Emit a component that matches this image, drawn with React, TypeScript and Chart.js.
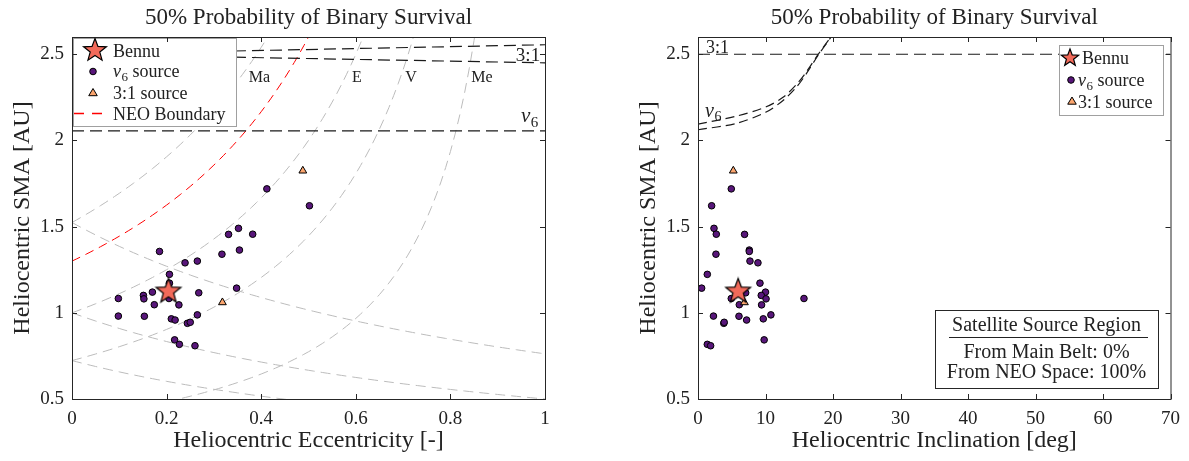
import React, { useEffect, useRef } from 'react';
import { Chart, registerables } from 'chart.js';

Chart.register(...registerables);

// ---------------- data ----------------
// nu6-source satellites: eccentricity, semi-major axis [AU], inclination [deg]
const nu6Ecc = [0.412, 0.502, 0.352, 0.382, 0.331, 0.354, 0.185, 0.317, 0.265, 0.239, 0.206, 0.206, 0.348, 0.170, 0.268, 0.151, 0.152, 0.098, 0.205, 0.174, 0.226, 0.265, 0.098, 0.153, 0.210, 0.218, 0.244, 0.250, 0.217, 0.227, 0.260];
const nu6Sma = [1.719, 1.621, 1.490, 1.456, 1.455, 1.364, 1.356, 1.340, 1.300, 1.290, 1.223, 1.172, 1.143, 1.120, 1.116, 1.101, 1.081, 1.083, 1.083, 1.047, 1.046, 0.988, 0.981, 0.980, 0.965, 0.958, 0.939, 0.945, 0.843, 0.817, 0.809];
const nu6Inc = [4.93, 2.02, 2.37, 2.71, 6.9, 7.6, 7.6, 2.66, 7.7, 8.88, 1.38, 9.18, 0.54, 10.0, 7.06, 9.37, 10.08, 15.7, 4.93, 6.12, 9.42, 10.8, 2.29, 6.07, 9.67, 7.2, 3.82, 3.88, 9.8, 1.38, 1.87];

// 3:1-source satellites
const src31Ecc = [0.488, 0.318];
const src31Sma = [1.824, 1.06];
const src31Inc = [5.23, 6.88];

// Bennu
const bennuEcc = [0.204];
const bennuSma = [1.124];
const bennuInc = [5.95];

// planets (perihelion / aphelion crossing curves)
const planetNames = ['Ma', 'E', 'V', 'Me'];
const planetSma = [1.524, 1.0, 0.723, 0.387];
const neoPerihelion = 1.3;
const eccGrid = Array.from({ length: 100 }, (_, k) => k / 100);

// resonances, left panel (vs eccentricity)
const res31Ecc = [0, 1];
const res31Upper = [2.5, 2.555];
const res31Lower = [2.5, 2.45];
const nu6LeftSma = 2.055;

// resonances, right panel (vs inclination)
const nu6CurveInc = [0, 5.7, 10.1, 12.6, 14.6, 16.1, 17.8, 19.8, 21];
const nu6CurveUpper = [2.095, 2.141, 2.195, 2.25, 2.325, 2.4, 2.499, 2.607, 2.673];
const nu6CurveLower = [2.062, 2.099, 2.165, 2.232, 2.31, 2.39, 2.494, 2.604, 2.672];
const res31IncRange = [0, 70];

// ticks
const eccTicks = [0, 0.2, 0.4, 0.6, 0.8, 1];
const incTicks = [0, 10, 20, 30, 40, 50, 60, 70];
const smaTicks = [0.5, 1, 1.5, 2, 2.5];

// ---------------- styles ----------------
const FONT = '"Liberation Serif", "Times New Roman", serif';
const TXT = '#222222';
const PURPLE = '#58167a';
const PEACH = '#fba56e';
const CORAL = '#f26a5a';
const GRAY = '#bcbcbc';

function starPath(ctx: CanvasRenderingContext2D, x: number, y: number, R: number) {
  const r = R * 0.42;
  ctx.beginPath();
  for (let k = 0; k < 10; k++) {
    const ang = -Math.PI / 2 + (k * Math.PI) / 5;
    const rad = k % 2 === 0 ? R : r;
    const px = x + rad * Math.cos(ang);
    const py = y + rad * Math.sin(ang);
    if (k === 0) ctx.moveTo(px, py);
    else ctx.lineTo(px, py);
  }
  ctx.closePath();
}

function drawStar(ctx: CanvasRenderingContext2D, x: number, y: number, R: number) {
  starPath(ctx, x, y, R);
  ctx.fillStyle = CORAL;
  ctx.fill();
  ctx.lineWidth = 1.2;
  ctx.strokeStyle = '#000';
  ctx.setLineDash([]);
  ctx.stroke();
}

function makeStarImage(R: number) {
  const c = document.createElement('canvas');
  const s = Math.ceil(2 * R + 4);
  c.width = s;
  c.height = s;
  const ctx = c.getContext('2d')!;
  drawStar(ctx, s / 2, s / 2, R);
  return c;
}

function drawCircle(ctx: CanvasRenderingContext2D, x: number, y: number, r: number) {
  ctx.beginPath();
  ctx.arc(x, y, r, 0, Math.PI * 2);
  ctx.fillStyle = PURPLE;
  ctx.fill();
  ctx.lineWidth = 1;
  ctx.strokeStyle = '#000';
  ctx.setLineDash([]);
  ctx.stroke();
}

function drawTriangle(ctx: CanvasRenderingContext2D, x: number, y: number, r: number) {
  ctx.beginPath();
  ctx.moveTo(x, y - r);
  ctx.lineTo(x + r * 0.95, y + r * 0.6);
  ctx.lineTo(x - r * 0.95, y + r * 0.6);
  ctx.closePath();
  ctx.fillStyle = PEACH;
  ctx.fill();
  ctx.lineWidth = 1;
  ctx.strokeStyle = '#000';
  ctx.setLineDash([]);
  ctx.stroke();
}

// italic nu with subscript 6; returns width
function drawNu6(ctx: CanvasRenderingContext2D, x: number, y: number, size: number) {
  ctx.textAlign = 'left';
  ctx.textBaseline = 'alphabetic';
  ctx.fillStyle = TXT;
  ctx.font = `italic ${size}px ${FONT}`;
  ctx.fillText('\u03bd', x, y);
  const w = ctx.measureText('\u03bd').width;
  const s2 = Math.round(size * 0.7);
  ctx.font = `${s2}px ${FONT}`;
  ctx.fillText('6', x + w + 0.5, y + size * 0.22);
  return w + 0.5 + ctx.measureText('6').width;
}

function text(ctx: CanvasRenderingContext2D, s: string, x: number, y: number, size: number, align: CanvasTextAlign = 'left') {
  ctx.font = `${size}px ${FONT}`;
  ctx.textAlign = align;
  ctx.textBaseline = 'alphabetic';
  ctx.fillStyle = TXT;
  ctx.fillText(s, x, y);
}

function pts(xs: number[], ys: number[]) {
  return xs.map((x, i) => ({ x, y: ys[i] }));
}

function lineDs(data: { x: number; y: number }[], color: string, dash: number[], width = 1, tension = 0) {
  return {
    data,
    showLine: true,
    borderColor: color,
    borderWidth: width,
    borderDash: dash,
    pointRadius: 0,
    fill: false,
    tension,
  };
}

function frameAndText(chart: any, side: 'left' | 'right') {
  const ctx: CanvasRenderingContext2D = chart.ctx;
  const { left, right, top, bottom } = chart.chartArea;
  const xs = chart.scales.x;
  const ys = chart.scales.y;
  ctx.save();
  ctx.setLineDash([]);
  ctx.strokeStyle = '#262626';
  ctx.lineWidth = 1;
  ctx.strokeRect(left + 0.5, top + 0.5, right - left, bottom - top);
  ctx.beginPath();
  for (const t of xs.ticks) {
    const px = Math.round(xs.getPixelForValue(t.value)) + 0.5;
    ctx.moveTo(px, bottom);
    ctx.lineTo(px, bottom - 5);
    ctx.moveTo(px, top);
    ctx.lineTo(px, top + 5);
  }
  for (const t of ys.ticks) {
    const py = Math.round(ys.getPixelForValue(t.value)) + 0.5;
    ctx.moveTo(left, py);
    ctx.lineTo(left + 5, py);
    ctx.moveTo(right, py);
    ctx.lineTo(right - 5, py);
  }
  ctx.stroke();

  const cx = (left + right) / 2;
  const cy = (top + bottom) / 2;
  text(ctx, '50% Probability of Binary Survival', cx, 24, 23, 'center');
  text(ctx, side === 'left' ? 'Heliocentric Eccentricity [-]' : 'Heliocentric Inclination [deg]', cx, 447, 24, 'center');
  ctx.save();
  ctx.translate(left - 43, cy);
  ctx.rotate(-Math.PI / 2);
  text(ctx, 'Heliocentric SMA [AU]', 0, 0, 24, 'center');
  ctx.restore();
  ctx.restore();
}

function overlayLeft(chart: any) {
  const ctx: CanvasRenderingContext2D = chart.ctx;
  ctx.save();
  // planet labels
  const labelX = [259.5, 357, 411, 482];
  planetNames.forEach((n, i) => text(ctx, n, labelX[i], 82, 16, 'center'));
  // resonance labels
  text(ctx, '3:1', 528, 61, 19, 'center');
  drawNu6(ctx, 521, 122, 21);

  // legend
  ctx.setLineDash([]);
  ctx.fillStyle = '#fff';
  ctx.fillRect(73, 38, 163, 88);
  ctx.strokeStyle = '#a0a0a0';
  ctx.lineWidth = 1;
  ctx.strokeRect(73.5, 38.5, 163, 88);
  drawStar(ctx, 95, 50.5, 12);
  drawCircle(ctx, 93, 71.5, 3.3);
  drawTriangle(ctx, 93, 93, 4.5);
  ctx.beginPath();
  ctx.setLineDash([10, 8]);
  ctx.strokeStyle = '#ff0000';
  ctx.lineWidth = 1.4;
  ctx.moveTo(74, 113.5);
  ctx.lineTo(105, 113.5);
  ctx.stroke();
  ctx.setLineDash([]);
  text(ctx, 'Bennu', 113, 56.5, 18);
  const w = drawNu6(ctx, 113, 77, 18);
  text(ctx, ' source', 113 + w, 77, 18);
  text(ctx, '3:1 source', 113, 98.5, 18);
  text(ctx, 'NEO Boundary', 113, 119.5, 18);
  ctx.restore();
}

function overlayRight(chart: any) {
  const ctx: CanvasRenderingContext2D = chart.ctx;
  const off = 600;
  ctx.save();
  text(ctx, '3:1', 717.5 - off, 52.5, 18, 'center');
  drawNu6(ctx, 705 - off, 116.5, 20);

  // legend
  ctx.setLineDash([]);
  ctx.fillStyle = '#fff';
  ctx.fillRect(1059 - off, 45, 104, 70);
  ctx.strokeStyle = '#a0a0a0';
  ctx.lineWidth = 1;
  ctx.strokeRect(1059.5 - off, 45.5, 104, 70);
  drawStar(ctx, 1070 - off, 58, 9);
  drawCircle(ctx, 1071 - off, 80, 3.3);
  drawTriangle(ctx, 1072 - off, 101.5, 4.5);
  text(ctx, 'Bennu', 1082 - off, 64, 18);
  const w = drawNu6(ctx, 1078 - off, 86, 18);
  text(ctx, ' source', 1078 - off + w, 86, 18);
  text(ctx, '3:1 source', 1078 - off, 107.5, 18);

  // annotation box
  ctx.fillStyle = '#fff';
  ctx.fillRect(935 - off, 310, 223, 78);
  ctx.strokeStyle = '#262626';
  ctx.strokeRect(935.5 - off, 310.5, 223, 78);
  const acx = 1046.5 - off;
  text(ctx, 'Satellite Source Region', acx, 331, 20, 'center');
  ctx.beginPath();
  ctx.moveTo(949 - off, 337.5);
  ctx.lineTo(1148 - off, 337.5);
  ctx.strokeStyle = '#222';
  ctx.stroke();
  text(ctx, 'From Main Belt: 0%', acx, 357.5, 20, 'center');
  text(ctx, 'From NEO Space: 100%', acx, 377.5, 20, 'center');
  ctx.restore();
}

function buildConfig(side: 'left' | 'right'): any {
  const isLeft = side === 'left';
  const starImg = makeStarImage(13);
  const xOf = (e: number[], i: number[]) => (isLeft ? e : i);

  const datasets: any[] = [
    {
      data: pts(xOf(bennuEcc, bennuInc), bennuSma),
      pointStyle: starImg,
      pointRadius: 13,
      showLine: false,
    },
    {
      data: pts(xOf(src31Ecc, src31Inc), src31Sma),
      pointStyle: 'triangle',
      pointRadius: 4.5,
      backgroundColor: PEACH,
      borderColor: '#000',
      borderWidth: 1,
      showLine: false,
    },
    {
      data: pts(xOf(nu6Ecc, nu6Inc), nu6Sma),
      pointStyle: 'circle',
      pointRadius: 3.3,
      backgroundColor: PURPLE,
      borderColor: '#000',
      borderWidth: 1,
      showLine: false,
    },
  ];

  if (isLeft) {
    datasets.push(lineDs(pts(res31Ecc, res31Upper), '#1a1a1a', [12, 6], 1.2));
    datasets.push(lineDs(pts(res31Ecc, res31Lower), '#1a1a1a', [12, 6], 1.2));
    datasets.push(lineDs(pts(res31Ecc, res31Ecc.map(() => nu6LeftSma)), '#1a1a1a', [12, 6], 1.2));
    datasets.push(lineDs(eccGrid.map((e) => ({ x: e, y: neoPerihelion / (1 - e) })), '#ff0000', [9, 6], 1));
    planetSma.forEach((p) => {
      datasets.push(lineDs(eccGrid.map((e) => ({ x: e, y: p / (1 - e) })), GRAY, [10, 6], 1));
      if (p > 0.5) datasets.push(lineDs(eccGrid.concat([1]).map((e) => ({ x: e, y: p / (1 + e) })), GRAY, [10, 6], 1));
    });
  } else {
    datasets.push(lineDs(pts(res31IncRange, res31IncRange.map(() => 2.5)), '#1a1a1a', [12, 6], 1.2));
    datasets.push(lineDs(pts(nu6CurveInc, nu6CurveUpper), '#1a1a1a', [9, 5], 1.2, 0.3));
    datasets.push(lineDs(pts(nu6CurveInc, nu6CurveLower), '#1a1a1a', [9, 5], 1.2, 0.3));
  }

  const tickFont = { family: FONT, size: 19 };
  const canvasW = isLeft ? 600 : 589;
  const plotLeft = isLeft ? 72 : 98;
  const plotRight = isLeft ? 545 : 571;
  const xTicks = isLeft ? eccTicks : incTicks;

  return {
    type: 'scatter',
    data: { datasets },
    options: {
      responsive: false,
      animation: false,
      events: [],
      layout: { padding: { left: 0, right: canvasW - plotRight, top: 37, bottom: 0 } },
      plugins: { legend: { display: false }, tooltip: { enabled: false }, title: { display: false } },
      scales: {
        x: {
          type: 'linear',
          min: 0,
          max: isLeft ? 1 : 70,
          afterBuildTicks: (s: any) => {
            s.ticks = xTicks.map((v) => ({ value: v }));
          },
          afterFit: (s: any) => {
            s.height = 62;
          },
          grid: { display: false, drawTicks: false },
          border: { display: false },
          ticks: {
            font: tickFont,
            color: TXT,
            padding: 9,
            maxRotation: 0,
            autoSkip: false,
            callback: (v: any) => String(v),
          },
        },
        y: {
          type: 'linear',
          min: 0.5,
          max: 2.6,
          afterBuildTicks: (s: any) => {
            s.ticks = smaTicks.map((v) => ({ value: v }));
          },
          afterFit: (s: any) => {
            s.width = plotLeft;
          },
          grid: { display: false, drawTicks: false },
          border: { display: false },
          ticks: {
            font: tickFont,
            color: TXT,
            padding: 8,
            autoSkip: false,
            callback: (v: any) => String(v),
          },
        },
      },
    },
    plugins: [
      {
        id: 'overlay-' + side,
        afterDatasetsDraw: (chart: any) => (isLeft ? overlayLeft(chart) : overlayRight(chart)),
        afterDraw: (chart: any) => frameAndText(chart, side),
      },
    ],
  };
}

function Panel({ side, left, width }: { side: 'left' | 'right'; left: number; width: number }) {
  const ref = useRef<HTMLCanvasElement>(null);
  useEffect(() => {
    const chart = new Chart(ref.current!, buildConfig(side));
    return () => chart.destroy();
  }, [side]);
  return (
    <canvas
      ref={ref}
      width={width}
      height={461}
      style={{ position: 'absolute', left, top: 0, width, height: 461 }}
    />
  );
}

export default function App() {
  return (
    <div style={{ position: 'fixed', left: 0, top: 0, width: 1189, height: 461, background: '#fff', overflow: 'hidden' }}>
      <Panel side="left" left={0} width={600} />
      <Panel side="right" left={600} width={589} />
    </div>
  );
}
